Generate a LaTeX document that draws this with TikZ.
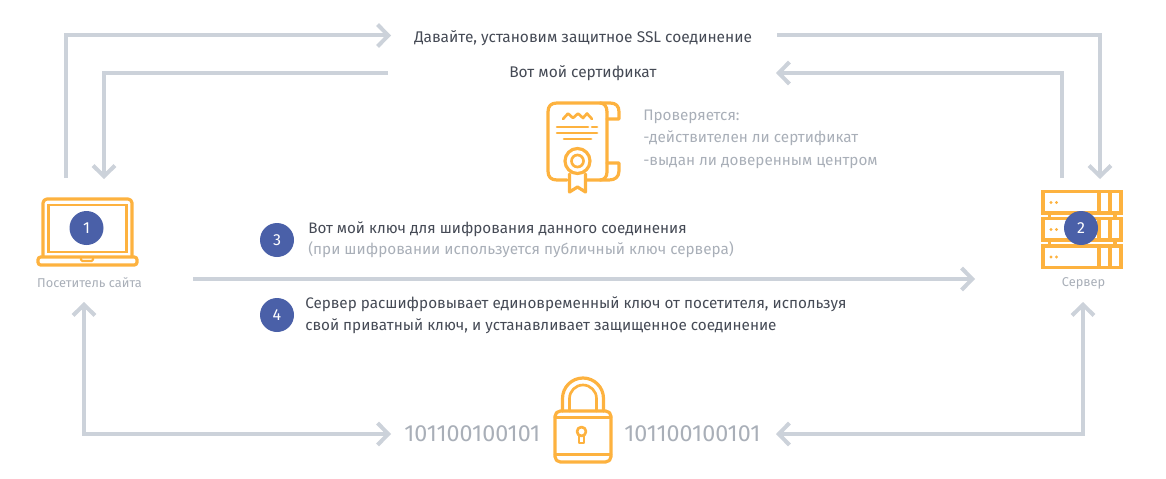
\documentclass[tikz,border=0pt]{standalone}
\usepackage{fontspec}
\setmainfont{Fira Sans}
\usetikzlibrary{arrows.meta}
\definecolor{conn}{HTML}{CCD2DA}
\definecolor{icon}{HTML}{FDB23F}
\definecolor{badge}{HTML}{4A60A8}
\definecolor{dark}{HTML}{454A55}
\definecolor{soft}{HTML}{A9AFB8}
\tikzset{
 px/.style={x=0.75pt,y=-0.75pt},
 barb/.tip={Straight Barb[length=8pt,width=16.5pt,line width=3pt]},
 link/.style={draw=conn,line width=3pt,-barb,line join=miter},
 linkboth/.style={draw=conn,line width=3pt,barb-barb,line join=miter},
 ico/.style={draw=icon,line width=2.4pt,line join=round,line cap=round,fill=none},
 ithin/.style={draw=icon,line width=2pt,line join=round,line cap=round,fill=none},
 rack/.style={draw=icon,line width=2.3pt,line join=miter,line cap=butt,fill=none},
 num/.style={circle,fill=badge,text=white,minimum size=25.5pt,inner sep=0pt,font=\fontsize{12}{14}\selectfont},
 main/.style={text=dark,font=\fontsize{11.5}{15}\selectfont,inner sep=0pt},
 muted/.style={text=soft,font=\fontsize{11.45}{15.5}\selectfont,inner sep=0pt},
 caption/.style={text=soft,font=\fontsize{9.6}{11}\selectfont,inner sep=0pt},
 bits/.style={text=soft,font=\fontsize{17.5}{19}\selectfont,inner sep=0pt},
}
\begin{document}
\begin{tikzpicture}[px]
\useasboundingbox (0,0) rectangle (1166,478);
% laptop
\draw[ico,rounded corners=3pt] (43,256) -- (43,199) -- (132,199) -- (132,256);
\draw[ico,line width=2.1pt,line join=miter] (48.5,205) rectangle (126.5,252);
\draw[ico,rounded corners=2pt] (38,257) -- (137,257) -- (137,265) -- (38,265) -- cycle;
\draw[ithin,line width=1.6pt,rounded corners=1pt] (81,258) -- (81,261) -- (93,261) -- (93,258);
% server
\foreach \y in {191.5,218.5,246}{
 \draw[rack] (1043,\y) rectangle (1121,\y+21.5);
 \draw[rack] (1099,\y) -- (1099,\y+21.5) (1110,\y) -- (1110,\y+21.5);
 \fill[icon] (1051,\y+11) circle (1.7) (1056.5,\y+11) circle (1.7);
}
\draw[rack] (1049.5,213) -- (1049.5,218.5) (1115,213) -- (1115,218.5) (1049.5,240) -- (1049.5,246) (1115,240) -- (1115,246);
% certificate
\draw[ico] (567,180) -- (557,180) .. controls (551,180) and (548,177) .. (548,171) -- (548,112) .. controls (548,106) and (551,103) .. (557,103) -- (610,103) .. controls (616,103) and (619,106) .. (619,112) -- (619,119) -- (607,119);
\draw[ico] (607,112) .. controls (607,106) and (604,103) .. (600,103);
\draw[ico] (607,112) -- (607,172) .. controls (607,177) and (604,180) .. (600,180) -- (587,180);
\draw[ico] (607,163) -- (619,163) -- (619,171) .. controls (619,177) and (615,180) .. (609,180) -- (600,180);
\draw[ithin] (563,119) -- (568,113.5) -- (573,118) -- (578,113.5) -- (583,118) -- (587,113.5) -- (592,119);
\draw[ithin] (557,127) -- (588,127) (592,127) -- (597,127) (557,133) -- (597,133) (564,139) -- (591,139);
\draw[ico] (577.5,161) circle (12.5);
\draw[ithin] (577.5,161) circle (6);
\draw[ico] (569.5,174) -- (569.5,192) -- (577.5,187) -- (585.5,192) -- (585.5,174);
% lock
\draw[ico,rounded corners=4pt] (555,411) rectangle (611,462);
\draw[ithin] (555,417.5) -- (611,417.5) (555,454.5) -- (611,454.5);
\draw[ico] (562.5,411) -- (562.5,398.5) arc[start angle=180,end angle=360,radius=20.5] -- (603.5,411);
\draw[ithin] (569.5,411) -- (569.5,398.5) arc[start angle=180,end angle=360,radius=13.5] -- (596.5,411);
\draw[ithin] (579,436) -- (579,443) -- (584,443) -- (584,436);
\draw[ithin] (581.5,431.5) circle (4.5);
% text nodes
\node[num] (n1) at (86.5,228) {1};
\node[num] (n2) at (1081,228) {2};
\node[num] (n3) at (277,240) {3};
\node[num] (n4) at (277,315) {4};
\node[caption] (visitor) at (89.5,283) {Посетитель сайта};
\node[caption] (server) at (1083.5,283) {Сервер};
\node[main,anchor=west,font=\fontsize{11.6}{15}\selectfont] (t1) at (414,38.5) {Давайте, установим защитное SSL соединение};
\node[main,anchor=west,font=\fontsize{11.6}{15}\selectfont] (t2) at (509,73) {Вот мой сертификат};
\node[muted,anchor=north west,align=left,font=\fontsize{11.45}{16.9}\selectfont] (t3) at (643,109.5) {Проверяется:\\-действителен ли сертификат\\-выдан ли доверенным центром};
\node[main,anchor=west,font=\fontsize{11.4}{15}\selectfont] (t4) at (308,229) {Вот мой ключ для шифрования данного соединения};
\node[muted,anchor=west] (t5) at (308,250) {(при шифровании используется публичный ключ сервера)};
\node[main,anchor=north west,align=left,font=\fontsize{11.45}{17}\selectfont] (t6) at (305,296) {Сервер расшифровывает единовременный ключ от посетителя, используя\\свой приватный ключ, и устанавливает защищенное соединение};
\node[bits,anchor=west] (b1) at (404,434) {101100100101};
\node[bits,anchor=west] (b2) at (624,434) {101100100101};
% connector ends
\coordinate (a1s) at (66,178); \coordinate (a1c) at (66,35.5); \coordinate (a1e) at (391,35.5);
\coordinate (a2s) at (388,73); \coordinate (a2c) at (104,73); \coordinate (a2e) at (104,179);
\coordinate (a3s) at (777,35.5); \coordinate (a3c) at (1100,35.5); \coordinate (a3e) at (1100,179);
\coordinate (a4s) at (1062,178); \coordinate (a4c) at (1062,73); \coordinate (a4e) at (776,73);
\coordinate (a5s) at (193,279); \coordinate (a5e) at (975,279);
\coordinate (a6s) at (84,302); \coordinate (a6c) at (84,434); \coordinate (a6e) at (391,434);
\coordinate (a7s) at (1083,302); \coordinate (a7c) at (1083,434); \coordinate (a7e) at (776,434);
\draw[link] (a1s) -- (a1c) -- (a1e);
\draw[link] (a2s) -- (a2c) -- (a2e);
\draw[link] (a3s) -- (a3c) -- (a3e);
\draw[link] (a4s) -- (a4c) -- (a4e);
\draw[link] (a5s) -- (a5e);
\draw[linkboth] (a6s) -- (a6c) -- (a6e);
\draw[linkboth] (a7s) -- (a7c) -- (a7e);
\end{tikzpicture}
\end{document}
